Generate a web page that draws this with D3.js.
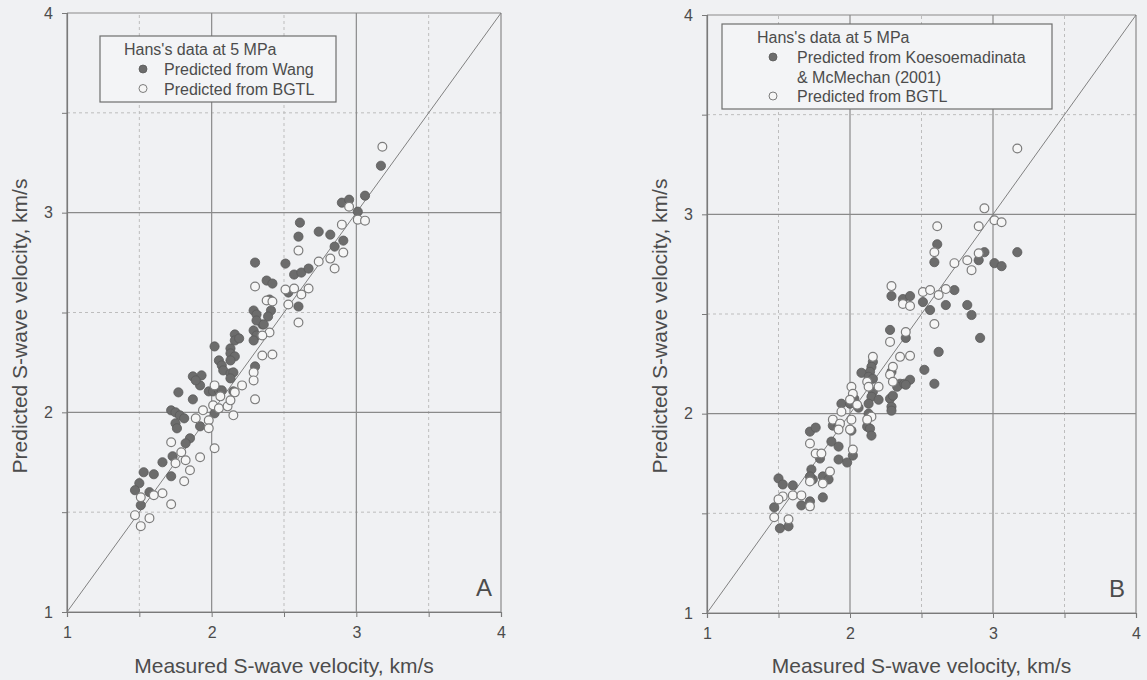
<!DOCTYPE html>
<html lang="en">
<head>
    <meta charset="UTF-8">
    <title>Predicted vs Measured S-wave velocity</title>
    <script src="https://d3js.org/d3.v7.min.js"></script>
    <style>
        body {
            margin: 0;
            background: #f0f1f3;
            font-family: "Liberation Sans", Arial, sans-serif;
        }
        svg text {
            fill: #4c4c4c;
        }
    </style>
</head>
<body>
    <div id="chart"></div>

    <script>
        // Tick values shared by both panels
        const majorTicks = [1, 2, 3, 4];
        const minorTicks = [1.5, 2.5, 3.5];

        // Panel A: [measured, predicted]
        const wangA = [
            [3.17,3.235],[3.06,3.085],[3.01,3.005],[2.90,3.05],[2.95,3.065],[2.61,2.95],[2.60,2.88],[2.74,2.905],
            [2.82,2.89],[2.85,2.83],[2.91,2.86],[2.30,2.75],[2.51,2.745],[2.57,2.69],[2.62,2.70],[2.67,2.72],
            [2.38,2.66],[2.42,2.645],[2.53,2.60],[2.60,2.53],[2.40,2.565],[2.29,2.51],[2.31,2.49],[2.41,2.51],
            [2.39,2.48],[2.35,2.44],[2.31,2.46],[2.36,2.44],[2.29,2.41],[2.31,2.385],[2.29,2.36],[2.16,2.39],
            [2.16,2.36],[2.19,2.37],[2.13,2.32],[2.13,2.295],[2.16,2.28],[2.13,2.26],[2.02,2.33],[2.05,2.26],
            [2.07,2.235],[2.08,2.21],[2.13,2.195],[2.15,2.20],[2.13,2.17],[2.30,2.23],[1.87,2.18],[1.93,2.185],
            [1.92,2.135],[1.89,2.16],[1.98,2.105],[2.01,2.105],[2.05,2.11],[2.07,2.11],[2.15,2.105],[1.77,2.10],
            [1.87,2.065],[2.02,1.995],[1.72,2.01],[1.75,2.0],[1.78,1.985],[1.81,1.97],[1.75,1.945],[1.76,1.92],
            [1.92,1.93],[1.85,1.87],[1.82,1.845],[1.73,1.78],[1.66,1.75],[1.72,1.68],[1.53,1.70],[1.60,1.69],
            [1.50,1.645],[1.47,1.61],[1.57,1.60],[1.51,1.535]
        ];
        const bgtlA = [
            [3.18,3.33],[2.95,3.03],[3.01,2.965],[3.06,2.96],[2.90,2.94],[2.91,2.80],[2.60,2.81],[2.74,2.755],
            [2.82,2.77],[2.85,2.72],[2.30,2.63],[2.51,2.615],[2.57,2.62],[2.67,2.62],[2.62,2.59],[2.53,2.54],
            [2.60,2.45],[2.38,2.56],[2.42,2.555],[2.40,2.40],[2.35,2.385],[2.29,2.20],[2.35,2.285],[2.42,2.29],
            [2.29,2.16],[2.21,2.135],[2.30,2.065],[2.02,2.135],[2.06,2.08],[2.01,2.035],[2.05,2.02],[2.11,2.03],
            [2.13,2.06],[2.16,2.10],[2.15,1.985],[1.89,1.97],[1.94,2.01],[1.98,1.96],[1.98,1.92],[1.72,1.85],
            [1.79,1.80],[1.75,1.745],[1.82,1.76],[1.85,1.71],[1.92,1.775],[2.02,1.82],[1.81,1.655],[1.66,1.595],
            [1.60,1.585],[1.51,1.575],[1.72,1.54],[1.47,1.485],[1.57,1.47],[1.51,1.43]
        ];

        // Panel B: [measured, predicted]
        const kmB = [
            [2.61,2.85],[2.59,2.76],[3.17,2.81],[2.94,2.81],[2.90,2.77],[3.01,2.755],[3.06,2.74],[2.29,2.59],
            [2.37,2.575],[2.42,2.59],[2.51,2.56],[2.56,2.52],[2.67,2.545],[2.73,2.62],[2.82,2.545],[2.85,2.495],
            [2.28,2.42],[2.39,2.38],[2.91,2.38],[2.62,2.31],[2.52,2.22],[2.59,2.15],[2.29,2.21],[2.35,2.15],
            [2.33,2.135],[2.38,2.15],[2.42,2.17],[2.39,2.145],[2.28,2.075],[2.30,2.09],[2.29,2.035],[2.29,2.015],
            [2.16,2.26],[2.15,2.235],[2.14,2.21],[2.08,2.205],[2.13,2.185],[2.16,2.175],[2.16,2.11],[2.15,2.085],
            [2.20,2.07],[2.13,2.05],[2.03,2.075],[2.06,2.03],[1.94,2.05],[2.00,2.05],[2.13,2.00],[2.12,1.935],
            [2.14,1.925],[2.15,1.89],[1.88,1.94],[1.92,1.94],[2.01,1.915],[1.72,1.91],[1.76,1.93],[1.87,1.86],
            [1.92,1.835],[1.79,1.775],[1.73,1.72],[1.74,1.67],[1.72,1.685],[1.81,1.685],[1.85,1.67],[1.81,1.58],
            [1.92,1.77],[1.98,1.755],[2.02,1.79],[1.50,1.675],[1.53,1.645],[1.60,1.64],[1.66,1.54],[1.72,1.56],
            [1.47,1.53],[1.51,1.425],[1.57,1.435]
        ];
        const bgtlB = [
            [3.17,3.33],[2.94,3.03],[2.90,2.94],[3.01,2.97],[3.06,2.96],[2.61,2.94],[2.59,2.81],[2.90,2.805],
            [2.73,2.755],[2.82,2.77],[2.85,2.72],[2.29,2.64],[2.51,2.61],[2.56,2.62],[2.62,2.595],[2.67,2.625],
            [2.37,2.55],[2.42,2.54],[2.59,2.45],[2.39,2.41],[2.28,2.36],[2.35,2.285],[2.42,2.29],[2.30,2.235],
            [2.28,2.195],[2.30,2.16],[2.16,2.285],[2.12,2.16],[2.13,2.135],[2.20,2.135],[2.01,2.135],[2.02,2.10],
            [2.00,2.07],[2.05,2.045],[1.94,2.01],[2.15,1.985],[2.12,1.97],[1.88,1.97],[1.93,1.95],[1.92,1.92],
            [2.00,1.92],[2.01,1.97],[1.72,1.85],[1.76,1.80],[1.80,1.80],[2.02,1.82],[1.86,1.71],[1.81,1.65],
            [1.72,1.66],[1.53,1.585],[1.60,1.59],[1.66,1.59],[1.50,1.57],[1.72,1.535],[1.47,1.48],[1.57,1.47]
        ];

        const panels = [
            {
                letter: "A", letterDx: 9,
                x0: 67, x1: 501, yTop: 13, yBottom: 612,
                filled: wangA, open: bgtlA,
                legend: { x: 100, y: 36, w: 236, h: 66, titleX: 24, markX: 43, textX: 64,
                    title: "Hans's data at 5 MPa",
                    filledText: ["Predicted from Wang"],
                    openText: ["Predicted from BGTL"] }
            },
            {
                letter: "B", letterDx: 11,
                x0: 707, x1: 1136, yTop: 15, yBottom: 613,
                filled: kmB, open: bgtlB,
                legend: { x: 722, y: 24, w: 330, h: 85, titleX: 35, markX: 51, textX: 75,
                    title: "Hans's data at 5 MPa",
                    filledText: ["Predicted from Koesoemadinata", "& McMechan (2001)"],
                    openText: ["Predicted from BGTL"] }
            }
        ];

        const svg = d3.select("#chart")
            .append("svg")
            .attr("width", 1147)
            .attr("height", 680);

        panels.forEach(p => {
            const x = d3.scaleLinear().domain([1, 4]).range([p.x0, p.x1]);
            const y = d3.scaleLinear().domain([1, 4]).range([p.yBottom, p.yTop]);
            const g = svg.append("g");

            // dashed half-unit grid
            g.selectAll(".vdash").data(minorTicks).enter().append("line")
                .attr("x1", d => x(d)).attr("x2", d => x(d))
                .attr("y1", y(1)).attr("y2", y(4))
                .attr("stroke", "#bdbdbd").attr("stroke-dasharray", "3,3");
            g.selectAll(".hdash").data(minorTicks).enter().append("line")
                .attr("x1", x(1)).attr("x2", x(4))
                .attr("y1", d => y(d)).attr("y2", d => y(d))
                .attr("stroke", "#bdbdbd").attr("stroke-dasharray", "3,3");

            // solid grid + frame
            g.selectAll(".vgrid").data(majorTicks).enter().append("line")
                .attr("x1", d => x(d)).attr("x2", d => x(d))
                .attr("y1", y(1)).attr("y2", y(4))
                .attr("stroke", "#8a8a8a").attr("stroke-width", 1.2);
            g.selectAll(".hgrid").data(majorTicks).enter().append("line")
                .attr("x1", x(1)).attr("x2", x(4))
                .attr("y1", d => y(d)).attr("y2", d => y(d))
                .attr("stroke", "#8a8a8a").attr("stroke-width", 1.2);

            // axes with ticks every 0.5
            const xAxis = g.append("g")
                .attr("transform", `translate(0,${y(1)})`)
                .call(d3.axisBottom(x).tickValues(d3.range(1, 4.01, 0.5))
                    .tickSize(5).tickPadding(10).tickFormat(d => Number.isInteger(d) ? d : ""));
            const yAxis = g.append("g")
                .attr("transform", `translate(${x(1)},0)`)
                .call(d3.axisLeft(y).tickValues(d3.range(1, 4.01, 0.5))
                    .tickSize(5).tickPadding(9).tickFormat(d => Number.isInteger(d) ? d : ""));
            [xAxis, yAxis].forEach(a => {
                a.select(".domain").attr("stroke", "#7a7a7a").attr("stroke-width", 1.2);
                a.selectAll(".tick line").attr("stroke", "#7a7a7a");
                a.selectAll("text")
                    .attr("font-size", 16)
                    .attr("font-family", "Liberation Sans, Arial, sans-serif")
                    .style("fill", "#4c4c4c");
            });

            // 1:1 line
            g.append("line")
                .attr("x1", x(1)).attr("y1", y(1))
                .attr("x2", x(4)).attr("y2", y(4))
                .attr("stroke", "#808080").attr("stroke-width", 1);

            // points
            g.selectAll(".filled").data(p.filled).enter().append("circle")
                .attr("cx", d => x(d[0])).attr("cy", d => y(d[1])).attr("r", 4.6)
                .attr("fill", "#6c6c6c").attr("stroke", "#5a5a5a").attr("stroke-width", 0.8);
            g.selectAll(".open").data(p.open).enter().append("circle")
                .attr("cx", d => x(d[0])).attr("cy", d => y(d[1])).attr("r", 4.4)
                .attr("fill", "#f6f6f6").attr("stroke", "#7c7c7c").attr("stroke-width", 1.2);

            // legend
            const L = p.legend;
            const lg = g.append("g").attr("transform", `translate(${L.x},${L.y})`);
            lg.append("rect").attr("width", L.w).attr("height", L.h)
                .attr("fill", "#f3f4f6").attr("stroke", "#6e6e6e").attr("stroke-width", 1.2);
            lg.append("text").attr("x", L.titleX).attr("y", 19).attr("font-size", 16).text(L.title);
            let row = 39;
            lg.append("circle").attr("cx", L.markX).attr("cy", row - 6).attr("r", 4)
                .attr("fill", "#6c6c6c").attr("stroke", "#5a5a5a").attr("stroke-width", 0.8);
            L.filledText.forEach(t => {
                lg.append("text").attr("x", L.textX).attr("y", row).attr("font-size", 16).text(t);
                row += 19.5;
            });
            lg.append("circle").attr("cx", L.markX).attr("cy", row - 6).attr("r", 4)
                .attr("fill", "#f6f6f6").attr("stroke", "#7c7c7c").attr("stroke-width", 1);
            L.openText.forEach(t => {
                lg.append("text").attr("x", L.textX).attr("y", row).attr("font-size", 16).text(t);
                row += 19.5;
            });

            // panel letter
            g.append("text")
                .attr("x", x(4) - p.letterDx).attr("y", y(1) - 16)
                .attr("text-anchor", "end").attr("font-size", 24)
                .text(p.letter);

            // axis titles
            g.append("text")
                .attr("x", (x(1) + x(4)) / 2).attr("y", 673)
                .attr("text-anchor", "middle").attr("font-size", 21)
                .text("Measured S-wave velocity, km/s");
            g.append("text")
                .attr("transform", `translate(${x(1) - 40},326) rotate(-90)`)
                .attr("text-anchor", "middle").attr("font-size", 21)
                .text("Predicted S-wave velocity, km/s");
        });
    </script>
</body>
</html>
